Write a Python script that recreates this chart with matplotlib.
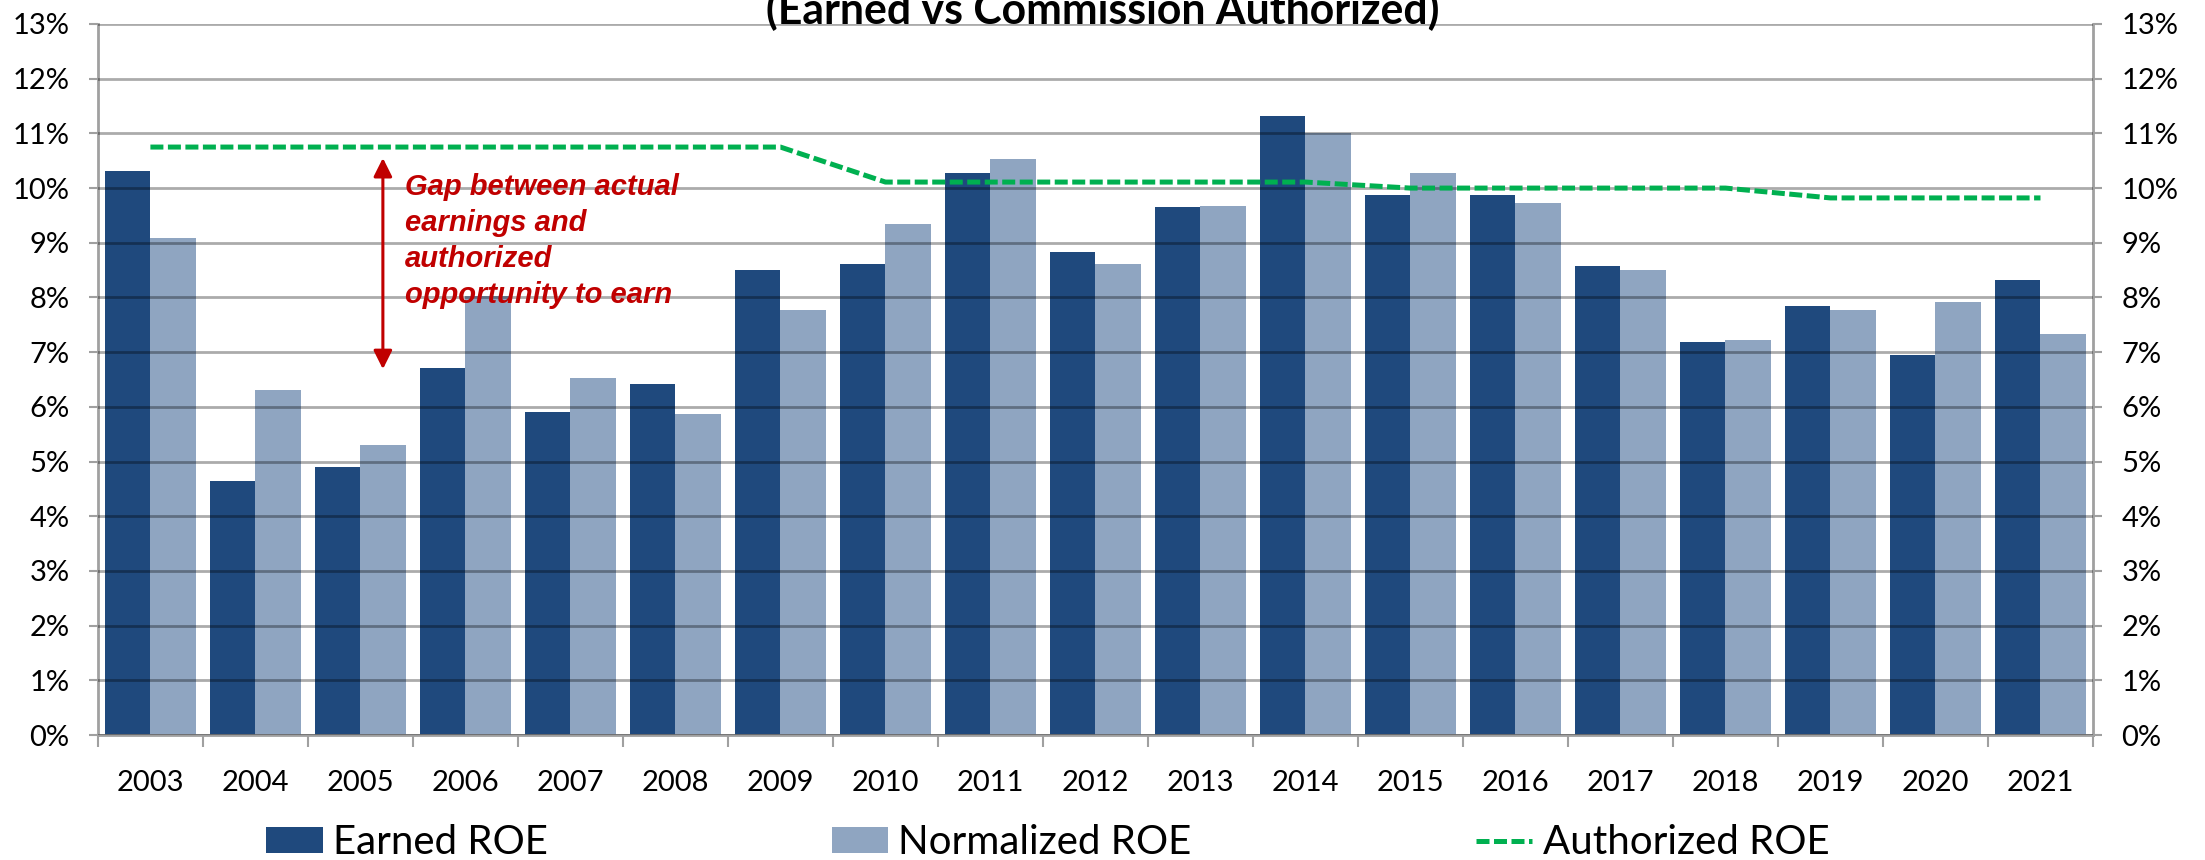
import matplotlib
matplotlib.use("Agg")
import matplotlib.pyplot as plt
import numpy as np
from matplotlib.ticker import FuncFormatter

plt.rcParams['font.family'] = ['Lato', 'DejaVu Sans']

# ROE by year, in percent
years = [2003, 2004, 2005, 2006, 2007, 2008, 2009, 2010, 2011, 2012,
         2013, 2014, 2015, 2016, 2017, 2018, 2019, 2020, 2021]
earned_roe = [10.31, 4.64, 4.90, 6.71, 5.90, 6.41, 8.50, 8.61, 10.27, 8.83,
              9.65, 11.31, 9.87, 9.87, 8.57, 7.19, 7.84, 6.94, 8.32]
normalized_roe = [9.09, 6.30, 5.30, 8.03, 6.53, 5.87, 7.77, 9.35, 10.53, 8.61,
                  9.68, 11.00, 10.27, 9.72, 8.50, 7.23, 7.77, 7.91, 7.34]
authorized_roe = [10.75, 10.75, 10.75, 10.75, 10.75, 10.75, 10.75, 10.11, 10.11, 10.11,
                  10.11, 10.11, 10.00, 10.00, 10.00, 10.00, 9.82, 9.82, 9.82]

title = '(Earned vs Commission Authorized)'
note = 'Gap between actual\nearnings and\nauthorized\nopportunity to earn'

fig = plt.figure(figsize=(22.05, 8.6), dpi=100)
ax = fig.add_axes([0.0444, 0.1453, 0.9048, 0.8268])

x = np.arange(len(years))
w = 0.433
b1 = ax.bar(x - w / 2, earned_roe, w, color='#1F497D', label='Earned ROE', zorder=1)
b2 = ax.bar(x + w / 2, normalized_roe, w, color='#8FA5C1', label='Normalized ROE', zorder=1)
ln, = ax.plot(x, authorized_roe, color='#00B050', lw=3.6, ls=(0, (2.6, 0.9)),
              dash_capstyle='butt', label='Authorized ROE', zorder=3)

ax.set_xlim(-0.5, len(years) - 0.5)
ax.set_ylim(0, 13)
ax.set_yticks(range(0, 14))
ax.yaxis.set_major_formatter(FuncFormatter(lambda v, p: '%d%%' % v))
ax.set_xticks(x)
ax.set_xticklabels([str(y) for y in years])
ax.set_xticks(np.arange(-0.5, len(years), 1.0), minor=True)

ax.set_axisbelow(False)
ax.grid(axis='y', color='black', alpha=0.33, lw=2)

for s in ['left', 'right', 'bottom']:
    ax.spines[s].set_color('#A0A0A0')
    ax.spines[s].set_linewidth(2)
ax.spines['top'].set_visible(False)

ax.tick_params(axis='y', which='both', left=True, right=True, labelleft=True, labelright=True,
               length=6.5, width=1.5, color='#A0A0A0', pad=14, labelsize=21, labelcolor='black')
ax.tick_params(axis='x', which='major', length=0, pad=25, labelsize=21)
ax.tick_params(axis='x', which='minor', length=8.6, width=1.5, color='#A0A0A0')

# title sits on the top gridline, top part runs off the picture as in the source
ax.text(9.07, 13.0, title, ha='center', va='baseline', fontsize=30.8,
        fontweight='bold', clip_on=False, zorder=5)

ax.annotate('', xy=(2.214, 10.55), xytext=(2.214, 6.69),
            arrowprops=dict(arrowstyle='<|-|>', color='#C00000', lw=2.2,
                            mutation_scale=28, shrinkA=0, shrinkB=0), zorder=4)
ax.text(2.424, 10.27, note, ha='left', va='top', color='#C00000', fontsize=21,
        family='Liberation Sans', fontweight='bold', fontstyle='italic',
        linespacing=1.36, zorder=4)

fig.legend([b1, b2, ln], ['Earned ROE', 'Normalized ROE', 'Authorized ROE'],
           loc='center left', bbox_to_anchor=(0.1206, 0.0198), ncol=3, frameon=False,
           fontsize=29, handlelength=1.41, handleheight=0.62, handletextpad=0.25,
           columnspacing=7.05, borderpad=0, borderaxespad=0)

fig.savefig('out.png', dpi=100)
